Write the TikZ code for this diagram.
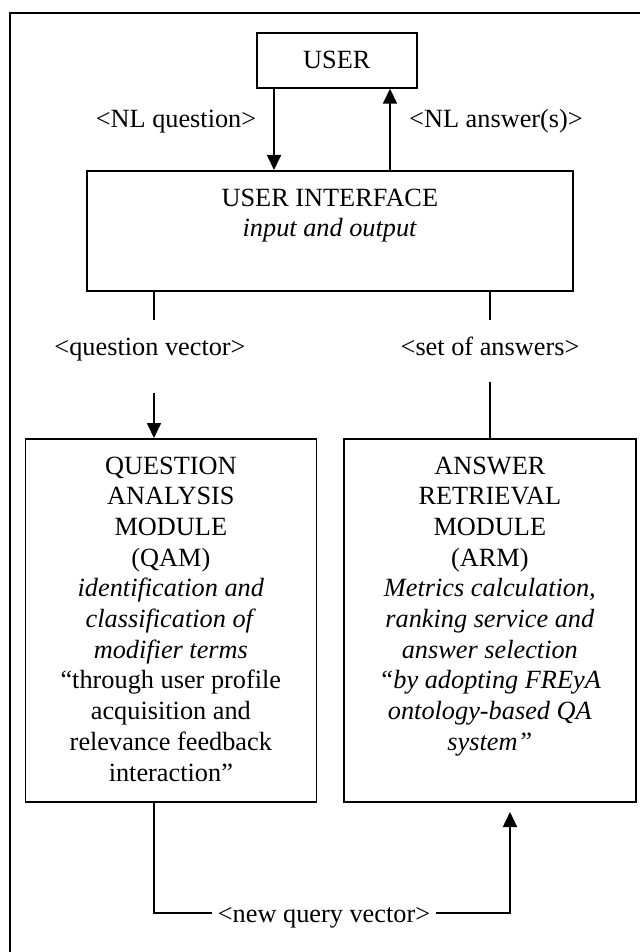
\documentclass[tikz,border=0pt]{standalone}
\usepackage{fontspec}
\setmainfont{Liberation Serif}
\usetikzlibrary{arrows.meta,calc}
\begin{document}
\begin{tikzpicture}[x=1pt,y=-1pt,
  every node/.style={font=\fontsize{26.3}{30.7}\selectfont},
  boxnode/.style={draw, line width=1.7pt, inner sep=0pt, anchor=north west},
  txt/.style={inner sep=0pt, align=center, anchor=north},
  lbl/.style={inner sep=6pt, text height=18pt, text depth=5pt},
  ln/.style={line width=1.7pt},
  arr/.style={line width=1.7pt, -{Triangle[length=15pt,width=14pt]}}]
\useasboundingbox (0,0) rectangle (640,952);
% outer frame (partly outside the picture)
\coordinate (fbl) at (10,952);
\coordinate (ftl) at (10,13);
\coordinate (ftr) at (640,13);
\draw[line width=1.5pt] (fbl) -- (ftl) -- (ftr);

% boxes
\node[boxnode, minimum width=160pt, minimum height=55pt] (user) at (256,32) {};
\node[inner sep=0pt] (usertxt) at (user.center) {USER};
\node[boxnode, minimum width=486pt, minimum height=120pt] (ui) at (86,170) {};
\node[txt] (uitxt) at ($(ui.north)+(0,18.4)$) {USER INTERFACE\\\textit{input and output}};
\node[boxnode, minimum width=291pt, minimum height=363pt] (qam) at (24.5,438) {};
\node[txt] (qamtxt) at ($(qam.north)+(0,18.4)$) {QUESTION\\ANALYSIS\\MODULE\\(QAM)\\\textit{identification and}\\\textit{classification of}\\\textit{modifier terms}\\“through user profile\\acquisition and\\relevance feedback\\interaction”};
\node[boxnode, minimum width=292pt, minimum height=363pt] (arm) at (343,438) {};
\node[txt] (armtxt) at ($(arm.north)+(0,18.4)$) {ANSWER\\RETRIEVAL\\MODULE\\(ARM)\\\textit{Metrics calculation,}\\\textit{ranking service and}\\\textit{answer selection}\\\textit{“by adopting FREyA}\\\textit{ontology-based QA}\\\textit{system”}};

% labels
\node[lbl] (nlq) at (176,121.5) {<NL question>};
\node[lbl] (nla) at (496,121.5) {<NL answer(s)>};
\node[lbl] (qv) at (150,348.5) {<question vector>};
\node[lbl] (soa) at (490,348.5) {<set of answers>};
\node[lbl] (nqv) at (324,915.5) {<new query vector>};

% helper coordinates
\coordinate (xq) at (274,0);
\coordinate (xa) at (390,0);
\coordinate (xl) at (154,0);
\coordinate (xr) at (490,0);
\coordinate (lend) at (154,320);
\coordinate (lstart) at (154,393);
\coordinate (rend) at (490,320);
\coordinate (rstart) at (490,382);
\coordinate (bl) at (154,913);
\coordinate (br) at (510,913);
\coordinate (btip) at (510,812);

% connectors
\draw[arr] (user.south -| xq) -- (ui.north -| xq);
\draw[arr] (ui.north -| xa) -- (user.south -| xa);
\draw[ln] (ui.south -| xl) -- (lend);
\draw[arr] (lstart) -- (qam.north -| xl);
\draw[ln] (ui.south -| xr) -- (rend);
\draw[ln] (rstart) -- (arm.north -| xr);
\draw[ln] (qam.south -| xl) -- (bl) -- (nqv.west |- bl);
\draw[arr] (nqv.east |- br) -- (br) -- (btip);
\end{tikzpicture}
\end{document}
